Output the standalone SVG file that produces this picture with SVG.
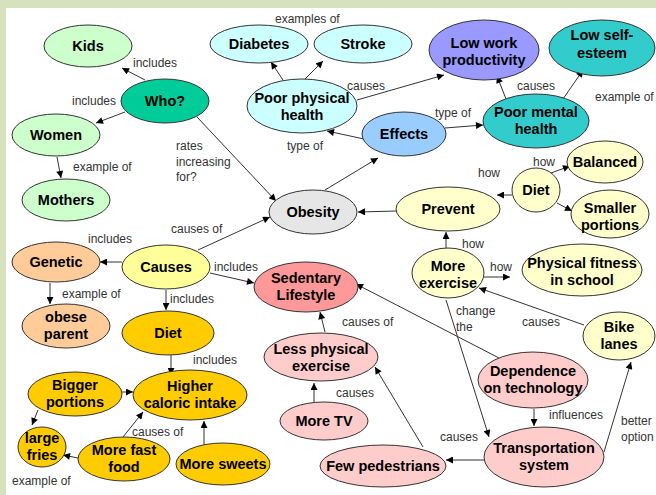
<svg xmlns="http://www.w3.org/2000/svg" width="656" height="495" viewBox="0 0 656 495">
<defs>
<marker id="ah" viewBox="0 0 10 10" refX="10" refY="5" markerWidth="8" markerHeight="7" markerUnits="userSpaceOnUse" orient="auto">
<path d="M0,0 L10,5 L0,10 z" fill="#000"/>
</marker>
<style>
.n ellipse{stroke:#333;stroke-width:1}
.n text{font-family:"Liberation Sans",Arial,sans-serif;font-weight:bold;font-size:14.5px;fill:#000;text-anchor:middle}
.c line{stroke:#333;stroke-width:1;marker-end:url(#ah)}
.l{font-family:"Liberation Sans",Arial,sans-serif;font-size:12px;fill:#333}
.g1{fill:#CCFFCC}.tl{fill:#00CC99}.cy{fill:#CCFFFF}.pu{fill:#9999FF}.te{fill:#33CCCC}
.bl{fill:#99CCFF}.gr{fill:#E6E6E6}.ly{fill:#FFFFCC}.yy{fill:#FFFF99}.pe{fill:#FFCC99}
.or{fill:#FFCC00}.rd{fill:#FF9999}.pk{fill:#FFCCCC}
</style>
</defs>
<rect width="656" height="495" fill="#D6E2BE"/>
<rect x="6" y="8" width="650" height="487" fill="#FFFFFF"/>

<g id="connectors" class="c">
<line x1="145" y1="80" x2="122" y2="68"/>
<line x1="125" y1="112" x2="96" y2="123"/>
<line x1="57" y1="157" x2="61" y2="178"/>
<line x1="197" y1="117" x2="276" y2="201"/>
<line x1="283" y1="80" x2="271" y2="62"/>
<line x1="304" y1="80" x2="323" y2="61"/>
<line x1="357" y1="100" x2="444" y2="75"/>
<line x1="364" y1="139" x2="327" y2="131"/>
<line x1="325" y1="190" x2="378" y2="158"/>
<line x1="445" y1="128" x2="483" y2="125"/>
<line x1="506" y1="99" x2="497" y2="76"/>
<line x1="563" y1="99" x2="583" y2="70"/>
<line x1="397" y1="211" x2="358" y2="212"/>
<line x1="512" y1="195" x2="497" y2="195"/>
<line x1="551" y1="173" x2="570" y2="166"/>
<line x1="557" y1="203" x2="572" y2="211"/>
<line x1="446" y1="249" x2="446" y2="232"/>
<line x1="484" y1="277" x2="510" y2="277"/>
<line x1="584" y1="325" x2="479" y2="288"/>
<line x1="446" y1="300" x2="489" y2="437"/>
<line x1="604" y1="452" x2="631" y2="362"/>
<line x1="534" y1="409" x2="534" y2="426"/>
<line x1="499" y1="358" x2="356" y2="284"/>
<line x1="484" y1="460" x2="446" y2="460"/>
<line x1="423" y1="447" x2="375" y2="367"/>
<line x1="314" y1="403" x2="314" y2="383"/>
<line x1="325" y1="332" x2="320" y2="312"/>
<line x1="198" y1="250" x2="270" y2="217"/>
<line x1="122" y1="262" x2="100" y2="262"/>
<line x1="50" y1="283" x2="50" y2="304"/>
<line x1="166" y1="290" x2="166" y2="310"/>
<line x1="210" y1="273" x2="254" y2="283"/>
<line x1="171" y1="355" x2="171" y2="375"/>
<line x1="122" y1="392" x2="133" y2="392"/>
<line x1="38" y1="410" x2="32" y2="425"/>
<line x1="123" y1="437" x2="143" y2="412"/>
<line x1="78" y1="458" x2="63" y2="455"/>
<line x1="204" y1="445" x2="204" y2="421"/>
</g>

<g id="labels" class="l">
<text x="275" y="23">examples of</text>
<text x="133" y="67">includes</text>
<text x="72" y="105">includes</text>
<text x="73" y="171">example of</text>
<text x="176" y="150">rates</text>
<text x="176" y="166">increasing</text>
<text x="176" y="181">for?</text>
<text x="287" y="150">type of</text>
<text x="347" y="90">causes</text>
<text x="435" y="117">type of</text>
<text x="517" y="90">causes</text>
<text x="595" y="101">example of</text>
<text x="533" y="166">how</text>
<text x="478" y="177">how</text>
<text x="171" y="233">causes of</text>
<text x="88" y="243">includes</text>
<text x="214" y="271">includes</text>
<text x="62" y="298">example of</text>
<text x="170" y="303">includes</text>
<text x="193" y="364">includes</text>
<text x="132" y="436">causes of</text>
<text x="12" y="485">example of</text>
<text x="462" y="248">how</text>
<text x="490" y="271">how</text>
<text x="456" y="315">change</text>
<text x="456" y="331">the</text>
<text x="522" y="326">causes</text>
<text x="342" y="326">causes of</text>
<text x="336" y="397">causes</text>
<text x="549" y="419">influences</text>
<text x="621" y="425">better</text>
<text x="621" y="441">option</text>
<text x="440" y="441">causes</text>
</g>

<g id="kids" class="n"><ellipse class="g1" cx="88" cy="46" rx="44" ry="21"/><text x="88" y="51">Kids</text></g>
<g id="who" class="n"><ellipse class="tl" cx="165" cy="101" rx="44" ry="22"/><text x="165" y="106">Who?</text></g>
<g id="women" class="n"><ellipse class="g1" cx="56" cy="135" rx="44" ry="21"/><text x="56" y="140">Women</text></g>
<g id="mothers" class="n"><ellipse class="g1" cx="66" cy="200" rx="44" ry="21"/><text x="66" y="205">Mothers</text></g>
<g id="diabetes" class="n"><ellipse class="cy" cx="259" cy="44" rx="49" ry="19"/><text x="259" y="49">Diabetes</text></g>
<g id="stroke" class="n"><ellipse class="cy" cx="363" cy="44" rx="49" ry="19"/><text x="363" y="49">Stroke</text></g>
<g id="poor-physical-health" class="n"><ellipse class="cy" cx="302" cy="106" rx="55" ry="27"/><text x="302" y="103">Poor physical</text><text x="302" y="120">health</text></g>
<g id="low-work-productivity" class="n"><ellipse class="pu" cx="484" cy="50" rx="55" ry="30"/><text x="484" y="48">Low work</text><text x="484" y="65">productivity</text></g>
<g id="low-self-esteem" class="n"><ellipse class="te" cx="602" cy="48" rx="53" ry="28"/><text x="602" y="40">Low self-</text><text x="602" y="58">esteem</text></g>
<g id="effects" class="n"><ellipse class="bl" cx="404" cy="134" rx="42" ry="22"/><text x="404" y="139">Effects</text></g>
<g id="poor-mental-health" class="n"><ellipse class="te" cx="536" cy="121" rx="53" ry="27"/><text x="536" y="117">Poor mental</text><text x="536" y="134">health</text></g>
<g id="obesity" class="n"><ellipse class="gr" cx="313" cy="212" rx="44" ry="22"/><text x="313" y="217">Obesity</text></g>
<g id="prevent" class="n"><ellipse class="ly" cx="448" cy="209" rx="52" ry="22"/><text x="448" y="214">Prevent</text></g>
<g id="diet-prevent" class="n"><ellipse class="ly" cx="536" cy="190" rx="24" ry="22"/><text x="536" y="195">Diet</text></g>
<g id="balanced" class="n"><ellipse class="ly" cx="605" cy="162" rx="38" ry="21"/><text x="605" y="167">Balanced</text></g>
<g id="smaller-portions" class="n"><ellipse class="ly" cx="610" cy="214" rx="39" ry="24"/><text x="610" y="213">Smaller</text><text x="610" y="230">portions</text></g>
<g id="more-exercise" class="n"><ellipse class="ly" cx="448" cy="273" rx="36" ry="25"/><text x="448" y="271">More</text><text x="448" y="288">exercise</text></g>
<g id="physical-fitness" class="n"><ellipse class="ly" cx="582" cy="270" rx="60" ry="26"/><text x="582" y="268">Physical fitness</text><text x="582" y="285">in school</text></g>
<g id="bike-lanes" class="n"><ellipse class="ly" cx="619" cy="336" rx="36" ry="24"/><text x="619" y="332">Bike</text><text x="619" y="349">lanes</text></g>
<g id="dependence" class="n"><ellipse class="pk" cx="533" cy="380" rx="55" ry="28"/><text x="533" y="376">Dependence</text><text x="533" y="393">on technology</text></g>
<g id="transportation" class="n"><ellipse class="pk" cx="544" cy="457" rx="60" ry="30"/><text x="544" y="453">Transportation</text><text x="544" y="470">system</text></g>
<g id="few-pedestrians" class="n"><ellipse class="pk" cx="383" cy="466" rx="63" ry="21"/><text x="383" y="471">Few pedestrians</text></g>
<g id="more-tv" class="n"><ellipse class="pk" cx="324" cy="421" rx="44" ry="19"/><text x="324" y="426">More TV</text></g>
<g id="less-physical-exercise" class="n"><ellipse class="pk" cx="321" cy="357" rx="57" ry="24"/><text x="321" y="354">Less physical</text><text x="321" y="371">exercise</text></g>
<g id="sedentary-lifestyle" class="n"><ellipse class="rd" cx="306" cy="287" rx="52" ry="25"/><text x="306" y="283">Sedentary</text><text x="306" y="300">Lifestyle</text></g>
<g id="causes" class="n"><ellipse class="yy" cx="166" cy="267" rx="44" ry="22"/><text x="166" y="272">Causes</text></g>
<g id="genetic" class="n"><ellipse class="pe" cx="56" cy="262" rx="44" ry="20"/><text x="56" y="267">Genetic</text></g>
<g id="obese-parent" class="n"><ellipse class="pe" cx="66" cy="326" rx="44" ry="22"/><text x="66" y="322">obese</text><text x="66" y="339">parent</text></g>
<g id="diet-causes" class="n"><ellipse class="or" cx="168" cy="333" rx="46" ry="22"/><text x="168" y="338">Diet</text></g>
<g id="bigger-portions" class="n"><ellipse class="or" cx="75" cy="394" rx="47" ry="22"/><text x="75" y="390">Bigger</text><text x="75" y="407">portions</text></g>
<g id="higher-caloric-intake" class="n"><ellipse class="or" cx="190" cy="395" rx="57" ry="25"/><text x="190" y="391">Higher</text><text x="190" y="408">caloric intake</text></g>
<g id="large-fries" class="n"><ellipse class="or" cx="42" cy="447" rx="24" ry="20"/><text x="42" y="443">large</text><text x="42" y="460">fries</text></g>
<g id="more-fast-food" class="n"><ellipse class="or" cx="124" cy="459" rx="46" ry="22"/><text x="124" y="455">More fast</text><text x="124" y="472">food</text></g>
<g id="more-sweets" class="n"><ellipse class="or" cx="223" cy="464" rx="47" ry="21"/><text x="223" y="469">More sweets</text></g>
</svg>
